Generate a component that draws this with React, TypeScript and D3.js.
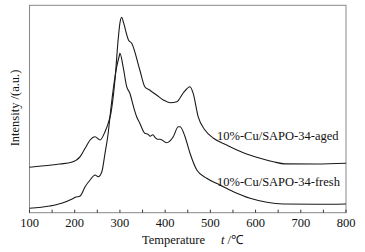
import React from "react";
import * as d3 from "d3";

const tempAged = [100, 167, 193, 212, 223, 234, 245, 256, 267, 274, 280, 289, 296, 300, 304, 308, 319, 326, 344, 355, 363, 381, 396, 411, 426, 440, 455, 462, 473, 488, 507, 536, 573, 610, 639, 665, 735, 800];
const intensityAged = [45.4, 48.7, 50.4, 56, 64.4, 72.7, 76, 72.7, 81, 89.4, 99.4, 132.7, 172.7, 189.7, 195.4, 190, 172.7, 169.4, 142.7, 126, 123.4, 117.7, 112.7, 110, 111, 119.7, 126, 119.4, 96, 82.7, 74.4, 67.7, 60, 54.5, 51, 48.8, 48.7, 49.4];

const tempFresh = [100, 145, 171, 193, 201, 212, 223, 234, 245, 252, 260, 267, 274, 278, 285, 293, 299, 300, 307, 315, 322, 330, 337, 344, 355, 362, 367, 373, 378, 383, 389, 403, 418, 429, 433, 444, 455, 470, 492, 521, 551, 588, 625, 661, 735, 800];
const intensityFresh = [4.4, 6.7, 9.4, 13.4, 15.4, 16.7, 26, 32.7, 37.7, 36, 41, 59.4, 79.4, 96, 122.7, 146, 157.7, 159.4, 146, 126, 119.4, 106, 96, 89.4, 79.4, 78.5, 76.5, 78, 75, 73.5, 73.5, 70, 76, 86, 86, 76, 59.4, 42.7, 34.4, 27.7, 21, 14.4, 10.4, 8.7, 8.4, 8.7];

const majorTicks = [100, 200, 300, 400, 500, 600, 700, 800];
const minorTicks = [150, 250, 350, 450, 550, 650, 750];
const seriesLabels = ["10%-Cu/SAPO-34-aged", "10%-Cu/SAPO-34-fresh"];

export default function App() {
  const W = 365, H = 252;
  const left = 29.5, right = 346, top = 5.3, bottom = 212.7;
  const x = d3.scaleLinear().domain([100, 800]).range([left, right]);
  const y = d3.scaleLinear().domain([0, 207.4]).range([bottom, top]);
  const line = d3
    .line<[number, number]>()
    .x((d) => x(d[0]))
    .y((d) => y(d[1]))
    .curve(d3.curveMonotoneX);
  const aged = tempAged.map((t, i) => [t, intensityAged[i]] as [number, number]);
  const fresh = tempFresh.map((t, i) => [t, intensityFresh[i]] as [number, number]);
  const font = "'Liberation Serif', 'Times New Roman', serif";
  return (
    <svg width={W} height={H} style={{ position: "absolute", left: 0, top: 0, background: "#fff" }} fontFamily={font}>
      <rect x={0} y={0} width={W} height={H} fill="#fff" />
      <rect x={left} y={top} width={right - left} height={bottom - top} fill="none" stroke="#888" strokeWidth={1} />
      {majorTicks.concat(minorTicks).map((t) => (
        <line key={t} x1={x(t)} x2={x(t)} y1={bottom} y2={bottom - 3} stroke="#333" strokeWidth={1} />
      ))}
      {majorTicks.map((t) => (
        <text key={t} x={x(t)} y={227} textAnchor="middle" fontSize={12.5} fill="#111">
          {t}
        </text>
      ))}
      <text x={142} y={244} fontSize={12.5} fill="#111">Temperature</text>
      <text x={221} y={244} fontSize={12.5} fill="#111">
        <tspan fontStyle="italic">t</tspan> /℃
      </text>
      <text transform="translate(19,108) rotate(-90)" textAnchor="middle" fontSize={12.5} fill="#111">
        Intensity /(a.u.)
      </text>
      <path d={line(aged) ?? ""} fill="none" stroke="#1a1a1a" strokeWidth={1.1} />
      <path d={line(fresh) ?? ""} fill="none" stroke="#1a1a1a" strokeWidth={1.1} />
      <text x={217} y={139.5} fontSize={12.5} fill="#111">{seriesLabels[0]}</text>
      <text x={217} y={186} fontSize={12.5} fill="#111">{seriesLabels[1]}</text>
    </svg>
  );
}
